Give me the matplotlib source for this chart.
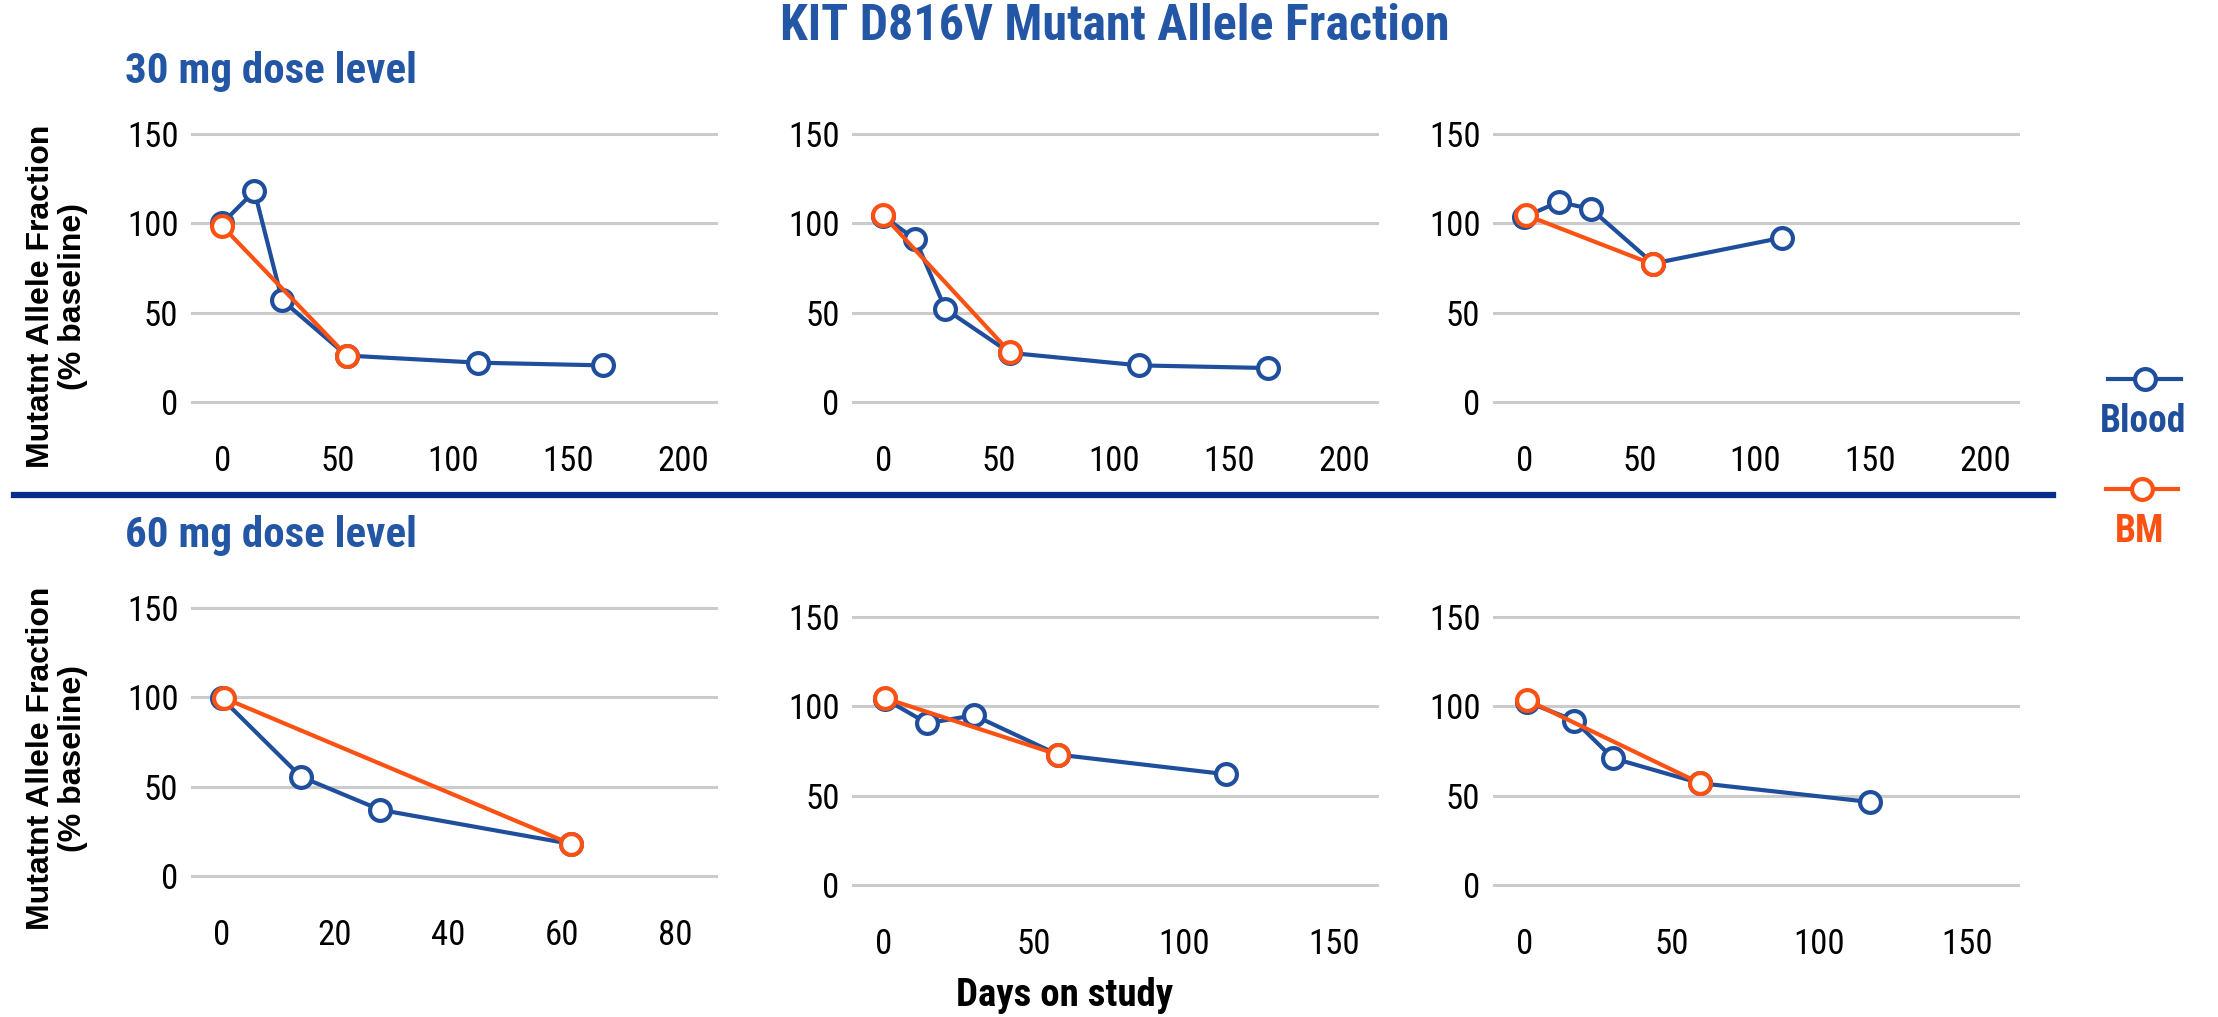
import matplotlib.pyplot as plt
from matplotlib.lines import Line2D

W, H = 2218, 1017
DPI = 100

BLUE = '#1f4e9c'
ORANGE = '#fb5214'
TITLE_BLUE = '#2356a4'
NAVY = '#062f8c'
GRID = '#cbcbcb'

NARROW = ['Roboto Condensed', 'Archivo Narrow', 'DejaVu Sans']
WIDE = ['Liberation Sans', 'DejaVu Sans']

# 30 mg dose level, three patients
blood_days_30 = [[0, 14, 26, 54, 111, 165],
                 [0, 14, 27, 55, 111, 167],
                 [0, 15, 29, 56, 112]]
blood_maf_30 = [[100, 118, 57, 26, 22, 20.5],
                [104, 91, 52, 27.5, 20.5, 19],
                [103.5, 112, 108, 77.5, 92]]
bm_days_30 = [[0, 54], [0, 55], [1, 56]]
bm_maf_30 = [[98.5, 26], [104.5, 27.8], [104.5, 77]]

# 60 mg dose level, three patients
blood_days_60 = [[0, 14, 28, 61.5],
                 [0.5, 14.5, 30, 58, 114],
                 [1, 17, 30, 59.5, 117]]
blood_maf_60 = [[99.5, 55.5, 37, 18],
                [104, 90.5, 95, 73, 62],
                [102.5, 92, 71, 57, 46.5]]
bm_days_60 = [[0.5, 61.5], [0.5, 58], [1, 59.5]]
bm_maf_60 = [[99.5, 18], [104.5, 73], [103.5, 57]]

yticks = [0, 50, 100, 150]
xticks_30 = [0, 50, 100, 150, 200]
xticks_60 = [[0, 20, 40, 60, 80], [0, 50, 100, 150], [0, 50, 100, 150]]
xlims_30 = [(-13.5, 215), (-13.5, 215), (-13.5, 215)]
xlims_60 = [(-5.4, 87.5), (-10.6, 165), (-10.6, 168)]

# pixel geometry of the gridline boxes: (left, right) and (y of 0, y of 150)
cols = [(191, 718), (852, 1379), (1493, 2020)]
rows_30 = [(402, 134)] * 3
rows_60 = [(876, 608), (885, 617), (885, 617)]
YLIM = (-10, 160)
PX_PER_PT = DPI / 72.0


def add_panel(fig, col, row, xlim):
    xl, xr = col
    y0, y150 = row
    s = (y0 - y150) / 150.0
    bottom = y0 - YLIM[0] * s
    top = y150 - (YLIM[1] - 150) * s
    ax = fig.add_axes([xl / W, 1 - bottom / H, (xr - xl) / W, (bottom - top) / H])
    ax.set_xlim(*xlim)
    ax.set_ylim(*YLIM)
    for sp in ax.spines.values():
        sp.set_visible(False)
    ax.set_yticks(yticks)
    ax.grid(axis='y', color=GRID, lw=2.2)
    ax.set_axisbelow(True)
    ax.tick_params(axis='x', length=0, pad=(43 - (bottom - y0)) / PX_PER_PT, labelsize=25)
    ax.tick_params(axis='y', length=0, pad=9, labelsize=25)
    return ax


def draw_series(ax, days, vals, color, z):
    ax.plot(days, vals, color=color, lw=3.0, marker='o', ms=15,
            mfc='white', mec=color, mew=3.0, clip_on=False, zorder=z)


plt.rcParams['font.family'] = NARROW
fig = plt.figure(figsize=(W / DPI, H / DPI), dpi=DPI)

for i in range(3):
    ax = add_panel(fig, cols[i], rows_30[i], xlims_30[i])
    ax.set_xticks(xticks_30)
    draw_series(ax, blood_days_30[i], blood_maf_30[i], BLUE, 3)
    draw_series(ax, bm_days_30[i], bm_maf_30[i], ORANGE, 4)

for i in range(3):
    ax = add_panel(fig, cols[i], rows_60[i], xlims_60[i])
    ax.set_xticks(xticks_60[i])
    draw_series(ax, blood_days_60[i], blood_maf_60[i], BLUE, 3)
    draw_series(ax, bm_days_60[i], bm_maf_60[i], ORANGE, 4)

# titles and labels
fig.text(1115 / W, 1 - 27 / H, 'KIT D816V Mutant Allele Fraction', ha='center', va='center',
         color=TITLE_BLUE, fontsize=36, fontweight='bold')
fig.text(125 / W, 1 - 72 / H, '30 mg dose level', ha='left', va='center',
         color=TITLE_BLUE, fontsize=31, fontweight='bold')
fig.text(125 / W, 1 - 535 / H, '60 mg dose level', ha='left', va='center',
         color=TITLE_BLUE, fontsize=31, fontweight='bold')
for yc in (296, 758):
    fig.text(57 / W, 1 - yc / H, 'Mutatnt Allele Fraction\n(% baseline)', ha='center', va='center',
             rotation=90, fontsize=23, fontweight='bold', family=WIDE, linespacing=1.05)
fig.text(1065 / W, 1 - 996 / H, 'Days on study', ha='center', va='center',
         fontsize=28, fontweight='bold')

# separator between dose levels
fig.add_artist(Line2D([14 / W, 2053 / W], [1 - 495 / H, 1 - 495 / H], color=NAVY, lw=4.5))

# legend
leg = fig.add_axes([2090 / W, 1 - 560 / H, 110 / W, 210 / H])
leg.set_xlim(0, 110)
leg.set_ylim(560, 350)
leg.axis('off')
leg.plot([18, 91], [379, 379], color=BLUE, lw=3.0, clip_on=False)
leg.plot([54.5], [379], color=BLUE, marker='o', ms=15, mfc='white', mec=BLUE, mew=3.0, clip_on=False)
leg.plot([16, 88], [489, 489], color=ORANGE, lw=3.0, clip_on=False)
leg.plot([52], [489], color=ORANGE, marker='o', ms=15, mfc='white', mec=ORANGE, mew=3.0, clip_on=False)
leg.text(53, 422, 'Blood', ha='center', va='center', color=BLUE, fontsize=27, fontweight='bold')
leg.text(50, 532, 'BM', ha='center', va='center', color=ORANGE, fontsize=27, fontweight='bold')

fig.savefig('out.png', dpi=DPI)
